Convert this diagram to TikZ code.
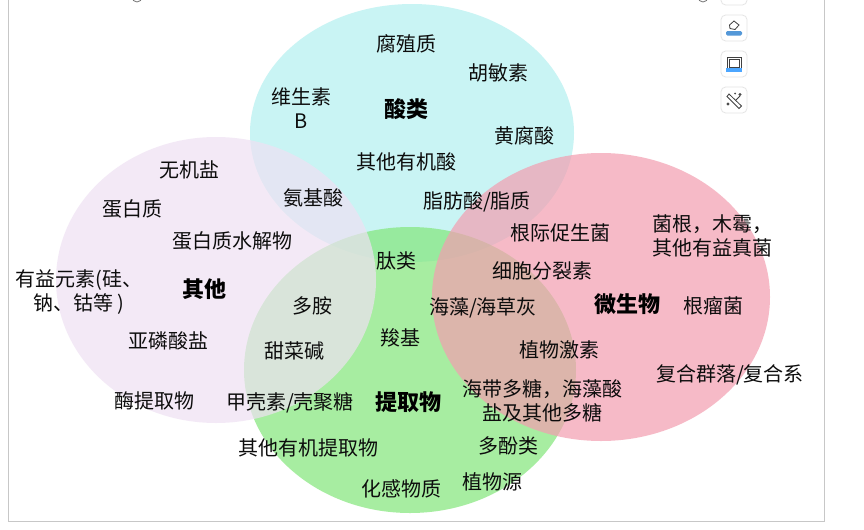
\documentclass[tikz,border=0pt]{standalone}
\usepackage{fontspec}
\setmainfont{Noto Sans CJK SC}
\definecolor{setacid}{RGB}{201,244,244}
\definecolor{setext}{RGB}{131,230,122}
\definecolor{setother}{RGB}{239,225,243}
\definecolor{setmicro}{RGB}{243,158,176}
\tikzset{
  px/.style={x=0.75pt,y=-0.75pt},
  lbl/.style={font=\fontsize{15pt}{18.5pt}\selectfont,align=center,inner sep=0pt,text=black!95,yshift=-0.7pt},
  head/.style={font=\fontsize{16.5pt}{19pt}\selectfont\bfseries,align=center,inner sep=0pt,text=black},
  iconbox/.style={draw=black!10,fill=white,rounded corners=3.5pt,minimum size=19.5pt,inner sep=0pt,line width=0.6pt},
  icon/.style={draw=black!75,line width=0.6pt},
}
\begin{document}
\begin{tikzpicture}[px]
\useasboundingbox (0,0) rectangle (864,529);
\fill[white] (0,0) rectangle (864,529);
\coordinate (frameA) at (8.5,-5);
\coordinate (frameB) at (824.5,521);
\draw[black!22,line width=0.75pt] (frameA) rectangle (frameB);
% sets
\fill[setacid] (412,133) ellipse [x radius=162,y radius=129];
\fill[setext,fill opacity=0.7] (410,370) ellipse [x radius=166,y radius=143];
\fill[setother,fill opacity=0.7] (216,280) ellipse [x radius=160,y radius=143];
\fill[setmicro,fill opacity=0.7] (601,297) ellipse [x radius=169,y radius=144];
% labels
\node[lbl] (a1) at (406,43) {腐殖质};
\node[lbl] (a2) at (498,72) {胡敏素};
\node[lbl] (a3) at (301,107) {维生素\\B};
\node[head] (acid) at (406,109) {酸类};
\node[lbl] (a4) at (524,135) {黄腐酸};
\node[lbl] (a5) at (406,161) {其他有机酸};
\node[lbl] (a6) at (477,201) {脂肪酸/脂质};
\node[lbl] (a7) at (313,197) {氨基酸};
\node[lbl] (o1) at (189,169) {无机盐};
\node[lbl] (o2) at (132,208) {蛋白质};
\node[lbl] (o3) at (232,240) {蛋白质水解物};
\node[lbl] (o4) at (79,291) {有益元素(硅、\\钠、钴等 )};
\node[head] (other) at (204,289) {其他};
\node[lbl] (o5) at (168,340) {亚磷酸盐};
\node[lbl] (o6) at (154,400) {酶提取物};
\node[lbl] (c1) at (312,305) {多胺};
\node[lbl] (c2) at (294,350) {甜菜碱};
\node[lbl] (c3) at (290,402) {甲壳素/壳聚糖};
\node[lbl] (c4) at (396,260) {肽类};
\node[lbl] (c5) at (400,337) {羧基};
\node[head] (ext) at (408,402) {提取物};
\node[lbl] (c6) at (308,447) {其他有机提取物};
\node[lbl] (c7) at (401,488) {化感物质};
\node[lbl] (c8) at (492,481) {植物源};
\node[lbl] (c9) at (508,445) {多酚类};
\node[lbl] (c10) at (542,400) {海带多糖，海藻酸\\盐及其他多糖};
\node[lbl] (m1) at (560,232) {根际促生菌};
\node[lbl] (m2) at (542,270) {细胞分裂素};
\node[lbl] (m3) at (483,307) {海藻/海草灰};
\node[lbl] (m4) at (559,349) {植物激素};
\node[head] (micro) at (627,304) {微生物};
\node[lbl] (m5) at (712,235) {菌根，木霉，\\其他有益真菌};
\node[lbl] (m6) at (713,305) {根瘤菌};
\node[lbl] (m7) at (730,374) {复合群落/复合系};
% toolbar icons
\node[iconbox] (i0) at (734,-8) {};
\node[iconbox] (i1) at (734,28) {};
\node[iconbox] (i2) at (734,64) {};
\node[iconbox] (i3) at (734,100) {};
\fill[cyan!60!blue!70,rounded corners=1pt] (726,31) rectangle (742,35.5);
\draw[icon] (729.5,25) -- (734,21) -- (739,25) -- (735,29.5) -- (730,28.5) -- cycle;
\draw[icon] (727,57) rectangle (741.5,68);
\draw[icon] (729,59) rectangle (739.5,67);
\fill[blue!50!cyan!70] (726,67.5) rectangle (742,71.5);
\draw[icon] (729,94) -- (741.5,106) -- (739,108.5) -- (727,96.5) -- cycle;
\draw[icon] (740,96) -- (736,100);
\fill[black!70] (740,94.5) circle (1.6);
\fill[black!70] (728,104) circle (1.6);
\fill[black!70] (735,93.5) circle (1);
\draw[black!55,fill=white,line width=0.6pt] (137,-3) circle (5);
\draw[black!55,fill=white,line width=0.6pt] (703,-3) circle (5);
\end{tikzpicture}
\end{document}
